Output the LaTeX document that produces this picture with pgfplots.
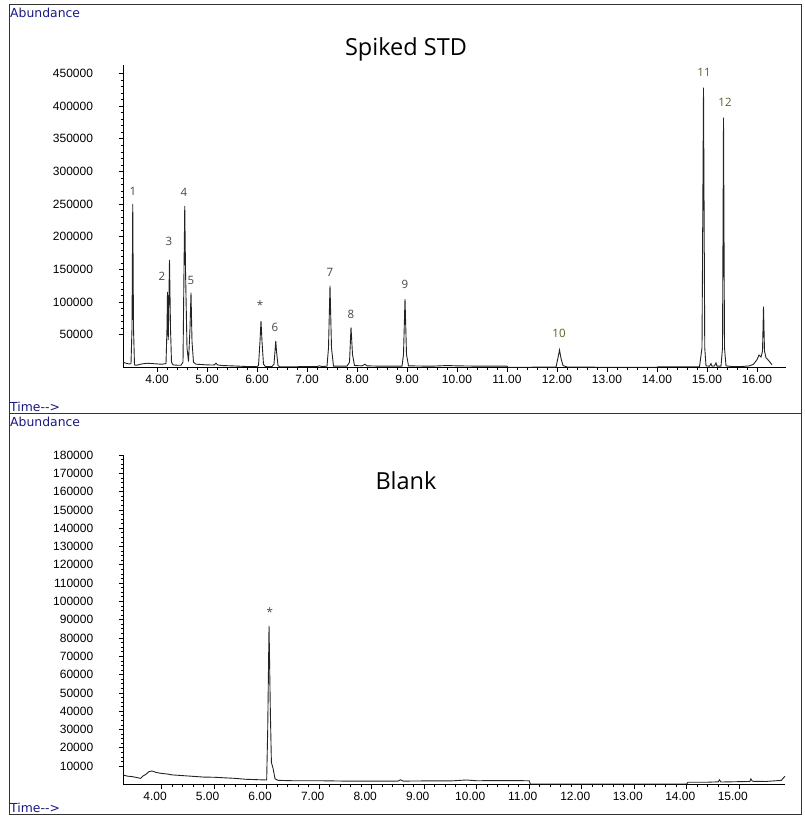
\documentclass[border=0pt]{standalone}
\usepackage{fontspec}
\usepackage{pgfplots}
\pgfplotsset{compat=1.18}
\setmainfont{DejaVu Sans}
\newfontfamily\tickfont{Liberation Sans}
\newfontfamily\titlefont{Open Sans}
\definecolor{navy}{RGB}{25,25,130}
\definecolor{curve}{RGB}{35,35,35}
\definecolor{pklab}{RGB}{70,70,70}
\definecolor{pkolive}{RGB}{95,95,40}
\pgfplotsset{chrom/.style={
  scale only axis, clip=false,
  axis x line*=bottom, axis y line*=left,
  axis line style={black, line width=0.9pt, -},
  tick align=outside,
  major tick length=4.5pt, minor tick length=2.5pt,
  every tick/.style={black, line width=0.7pt},
  tick label style={font=\tickfont\fontsize{12}{12}\selectfont, black},
  /pgf/number format/assume math mode=true,
  x tick label style={/pgf/number format/fixed, /pgf/number format/fixed zerofill, /pgf/number format/precision=2},
  y tick label style={/pgf/number format/fixed, /pgf/number format/precision=0, /pgf/number format/1000 sep={}, xshift=-22pt},
  scaled y ticks=false, scaled x ticks=false,
  minor x tick num=4,
  cycle list={{curve, line width=0.9pt, mark=none}},
}}
\begin{document}
\begin{tikzpicture}
\useasboundingbox (0,0) rectangle (804pt,817pt);
\draw[black!80, line width=1pt] (9pt,2pt) rectangle (801pt,812pt);
\draw[black!80, line width=1pt] (9pt,403.5pt) -- (801pt,403.5pt);
% top panel
\begin{axis}[chrom, at={(123pt,449.5pt)}, anchor=origin,
  width=663pt, height=302.5pt,
  xmin=3.32, xmax=16.58, ymin=0, ymax=463000,
  xtick={4,5,...,16}, ytick={50000,100000,...,450000}, minor y tick num=4]
\addplot[curve, line width=0.9pt, mark=none] table {
3.32 8500
3.36 7000
3.40 6000
3.45 5500
3.48 5800
3.50 60000
3.515 250300
3.53 60000
3.55 4000
3.58 3500
3.62 4000
3.70 5500
3.80 6500
3.90 6000
4.00 5500
4.10 5000
4.18 6000
4.20 60000
4.21 115600
4.225 42000
4.25 164600
4.27 60000
4.29 8000
4.32 4000
4.40 3500
4.48 3500
4.52 8000
4.54 150000
4.555 247200
4.57 150000
4.60 30000
4.63 9000
4.66 60000
4.68 114500
4.70 40000
4.73 8000
4.78 5000
4.90 4500
5.00 4000
5.10 3800
5.15 4000
5.18 6500
5.21 4000
5.30 3000
5.50 2500
5.80 1500
6.00 1200
6.03 3000
6.06 40000
6.08 71200
6.10 40000
6.13 5000
6.17 1500
6.30 1500
6.34 5000
6.36 25000
6.375 40600
6.39 25000
6.42 3000
6.45 1200
6.80 1200
7.20 1500
7.25 2500
7.30 1500
7.40 2000
7.43 30000
7.46 125200
7.49 30000
7.53 2000
7.80 2000
7.85 8000
7.88 61500
7.91 20000
7.95 3000
8.10 2500
8.16 5000
8.20 2500
8.50 2000
8.90 2000
8.93 20000
8.96 104800
8.99 20000
9.03 2500
9.50 2000
9.80 3000
10.00 2500
10.50 2000
11.00 2000
11.02 300
11.98 600
12.02 15000
12.05 26800
12.08 14000
12.12 3000
12.20 800
13.00 300
14.00 300
14.02 1200
14.85 1200
14.90 30000
14.93 428300
14.955 30000
14.98 2500
15.05 2000
15.08 6000
15.10 2000
15.15 2500
15.18 7000
15.20 2000
15.28 2000
15.31 30000
15.33 382400
15.35 30000
15.38 2500
15.50 1500
15.70 1500
15.85 2500
15.93 5000
16.00 12000
16.04 19000
16.08 16000
16.11 25000
16.13 93000
16.15 25000
16.18 15000
16.24 10000
16.30 4000
};
\begin{scope}[every node/.style={font=\titlefont\fontsize{11.5}{11.5}\selectfont, text=pklab, inner sep=0pt}]
\node at (axis cs:3.52,270200) {1};
\node at (axis cs:4.10,140000) {2};
\node at (axis cs:4.24,193600) {3};
\node at (axis cs:4.54,268600) {4};
\node at (axis cs:4.68,133900) {5};
\node at (axis cs:6.06,95700) {*};
\node at (axis cs:6.36,62000) {6};
\node at (axis cs:7.46,146200) {7};
\node at (axis cs:7.88,81900) {8};
\node at (axis cs:8.96,127800) {9};
\node[text=pkolive] at (axis cs:12.04,52800) {10};
\node[text=pkolive] at (axis cs:14.94,452300) {11};
\node[text=pkolive] at (axis cs:15.36,406400) {12};
\end{scope}
\end{axis}
% bottom panel
\begin{axis}[chrom, at={(123.3pt,32.6pt)}, anchor=origin,
  width=661.7pt, height=329.4pt,
  xmin=3.27, xmax=15.87, ymin=0, ymax=180000,
  xtick={4,5,...,15}, ytick={10000,20000,...,180000}, minor y tick num=3,
  x tick label style={xshift=-6.5pt}]
\addplot[curve, line width=0.9pt, mark=none] table {
3.27 5100
3.35 4500
3.45 4200
3.55 3600
3.60 3300
3.64 4500
3.70 5500
3.76 7000
3.82 7300
3.90 6500
4.00 6000
4.10 5700
4.20 5200
4.40 4800
4.60 4400
4.80 4000
5.00 3900
5.20 3600
5.40 3300
5.60 2800
5.80 2600
6.00 2400
6.02 30000
6.045 86600
6.07 40000
6.09 12000
6.12 9000
6.16 3000
6.22 2200
6.50 2000
7.00 2000
7.50 1800
8.00 1800
8.50 1800
8.55 2500
8.60 1800
9.00 1900
9.50 1900
9.80 2400
10.00 2000
10.50 2100
11.00 2000
11.02 200
14.00 200
14.02 1200
14.40 1200
14.60 1400
14.62 2500
14.65 1300
15.00 1500
15.20 1600
15.22 3000
15.25 1700
15.50 1600
15.70 2000
15.80 2200
15.87 4500
};
\node[font=\titlefont\fontsize{11.5}{11.5}\selectfont, text=pklab, inner sep=0pt] at (axis cs:6.06,94200) {*};
\end{axis}
% texts
\node[anchor=base west, inner sep=0pt, text=navy, font=\fontsize{12.4}{12.4}\selectfont] at (10pt,799pt) {Abundance};
\node[anchor=base west, inner sep=0pt, text=navy, font=\fontsize{12.4}{12.4}\selectfont] at (10pt,405pt) {Time-{}->};
\node[anchor=base west, inner sep=0pt, text=navy, font=\fontsize{12.4}{12.4}\selectfont] at (10pt,390pt) {Abundance};
\node[anchor=base west, inner sep=0pt, text=navy, font=\fontsize{12.4}{12.4}\selectfont] at (10pt,5pt) {Time-{}->};
\node[anchor=base, inner sep=0pt, font=\titlefont\fontsize{23.5}{23.5}\selectfont] at (406pt,761.5pt) {Spiked STD};
\node[anchor=base, inner sep=0pt, font=\titlefont\fontsize{23.5}{23.5}\selectfont] at (406pt,327pt) {Blank};
\end{tikzpicture}
\end{document}
